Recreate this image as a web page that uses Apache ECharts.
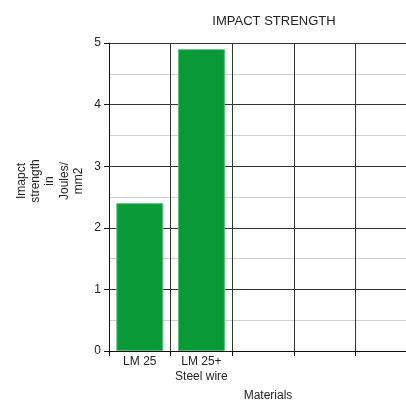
<!DOCTYPE html>
<html>
<head>
    <meta charset="utf-8">
    <title>Impact strength</title>
    <style>
        * { margin: 0; padding: 0; }
        body { overflow: hidden; width: 406px; height: 403px; }
        /* the plot runs past the right edge of the picture, so the canvas is a bit wider */
        #chart { width: 417px; height: 403px; background: #fff; }
    </style>
</head>
<body>
<div id="chart"></div>
<script src="https://cdn.jsdelivr.net/npm/echarts@6/dist/echarts.min.js"></script>
<script>
    // data
    const materials = ['LM 25', 'LM 25+\nSteel wire', ' ', '  ', '   '];
    const strength = [2.4, 4.9, null, null, null];
    const yTicks = [0, 1, 2, 3, 4, 5];

    const chart = echarts.init(document.getElementById('chart'), null, { renderer: 'canvas' });
    const font = 'Liberation Sans, Arial, sans-serif';

    const option = {
        animation: false,
        textStyle: { fontFamily: font },
        title: {
            text: 'IMPACT STRENGTH',
            left: 269,
            textAlign: 'center',
            top: 10,
            textStyle: { fontSize: 13, fontWeight: 'normal', color: '#222', fontFamily: font }
        },
        grid: { left: 109, right: 0, top: 43, bottom: 52 },
        xAxis: {
            type: 'category',
            data: materials,
            boundaryGap: true,
            axisLine: { lineStyle: { color: '#111', width: 1 } },
            axisTick: { show: true, length: 5, lineStyle: { color: '#111' } },
            axisLabel: { color: '#222', fontSize: 12, lineHeight: 15, margin: 3, interval: 0 },
            splitLine: { show: true, interval: 0, lineStyle: { color: '#333', width: 1 } }
        },
        yAxis: {
            type: 'value',
            min: yTicks[0],
            max: yTicks[yTicks.length - 1],
            interval: 1,
            axisLine: { show: true, lineStyle: { color: '#111' } },
            axisTick: { show: true, length: 5, lineStyle: { color: '#111' } },
            axisLabel: { color: '#222', fontSize: 12, margin: 8 },
            splitLine: { show: true, lineStyle: { color: '#333', width: 1 } },
            minorTick: { show: false, splitNumber: 2 },
            minorSplitLine: { show: true, lineStyle: { color: '#cfcfcf', width: 1 } }
        },
        series: [{
            type: 'bar',
            data: strength,
            barWidth: 47,
            itemStyle: { color: '#079a36', borderColor: '#5cc07c', borderWidth: 1, borderRadius: 0 }
        }],
        graphic: [
            {
                type: 'text',
                x: 50, y: 181,
                rotation: Math.PI / 2,
                style: {
                    text: 'Imapct\nstrength\nin\nJoules/\nmm2',
                    align: 'center',
                    verticalAlign: 'middle',
                    fontSize: 12,
                    lineHeight: 14.3,
                    fill: '#222',
                    fontFamily: font
                }
            },
            {
                type: 'text',
                x: 268, y: 396,
                style: {
                    text: 'Materials',
                    align: 'center',
                    verticalAlign: 'middle',
                    fontSize: 12,
                    fill: '#222',
                    fontFamily: font
                }
            }
        ]
    };
    chart.setOption(option);
</script>
</body>
</html>
